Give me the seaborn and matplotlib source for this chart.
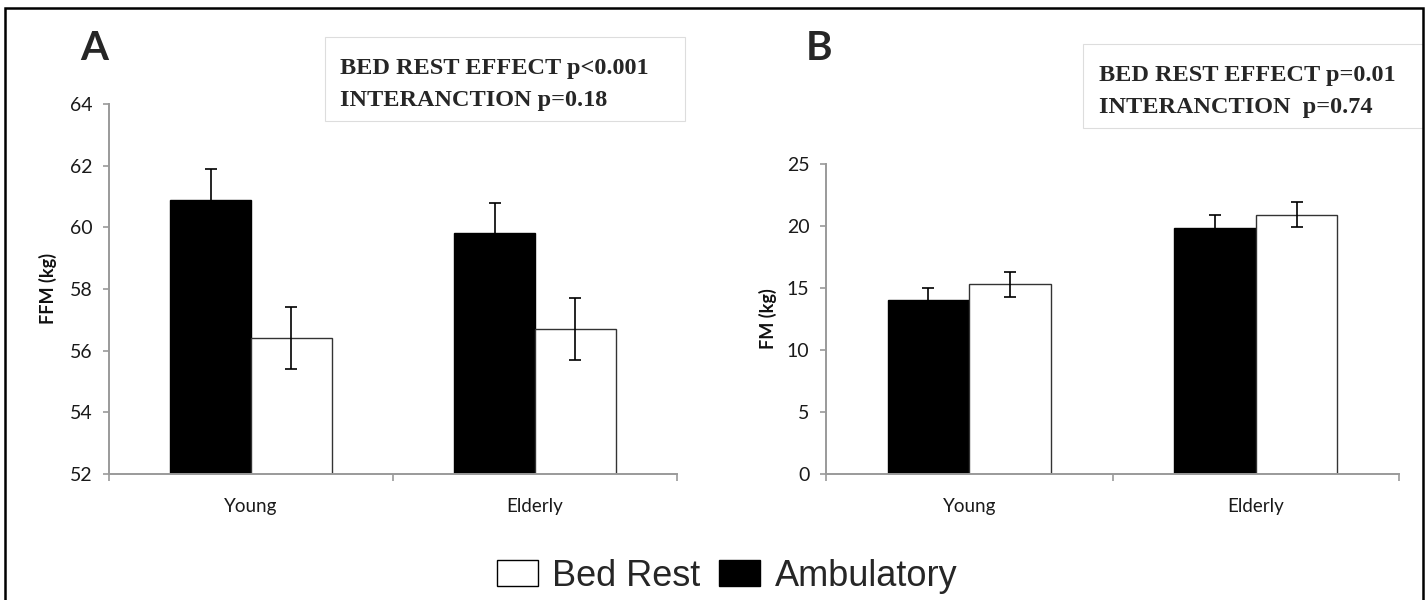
import numpy as np
import pandas as pd
import matplotlib
matplotlib.use("Agg")
import matplotlib.pyplot as plt
import seaborn as sns
from matplotlib.patches import Rectangle
from matplotlib.ticker import FixedLocator
from matplotlib.container import BarContainer

# ---------------- data ----------------
groups = ["Young", "Elderly"]
conditions = ["Ambulatory", "Bed Rest"]

ffm_ambulatory = [60.9, 59.8]
ffm_ambulatory_err = [1.0, 1.0]
ffm_bed_rest = [56.4, 56.7]
ffm_bed_rest_err = [1.0, 1.0]

fm_ambulatory = [14.0, 19.8]
fm_ambulatory_err = [1.0, 1.1]
fm_bed_rest = [15.3, 20.9]
fm_bed_rest_err = [1.0, 1.0]

ffm_ticks = [52, 54, 56, 58, 60, 62, 64]
fm_ticks = [0, 5, 10, 15, 20, 25]

panel_a_stats = ["BED REST EFFECT p<0.001", "INTERANCTION p=0.18"]
panel_b_stats = ["BED REST EFFECT p=0.01", "INTERANCTION  p=0.74"]
legend_labels = ["Bed Rest", "Ambulatory"]

# ---------------- style ----------------
sns.set_style("white")
plt.rcParams["font.family"] = ["Lato", "DejaVu Sans"]

W, H = 1428, 600
fig = plt.figure(figsize=(W / 100, H / 100), dpi=100)

def fx(px):
    return px / W

def fy(py):
    return 1 - py / H

palette = {"Ambulatory": "black", "Bed Rest": "white"}
spine_col = "#9a9a9a"


def make_df(amb, bed):
    rows = []
    for g, a, b in zip(groups, amb, bed):
        rows.append({"group": g, "condition": "Ambulatory", "value": a})
        rows.append({"group": g, "condition": "Bed Rest", "value": b})
    return pd.DataFrame(rows)


def draw_panel(rect, amb, amb_err, bed, bed_err, ticks, ylabel, ylab_x):
    ax = fig.add_axes(rect)
    df = make_df(amb, bed)
    sns.barplot(data=df, x="group", y="value", hue="condition",
                order=groups, hue_order=conditions, palette=palette,
                width=0.57, gap=0, errorbar=None, edgecolor="black",
                linewidth=1.0, ax=ax)
    bar_conts = [c for c in ax.containers if isinstance(c, BarContainer)]
    for cont in bar_conts:
        fc = cont.patches[0].get_facecolor()
        dark = sum(fc[:3]) < 1.5
        errs = amb_err if dark else bed_err
        if not dark:
            for b in cont.patches:
                b.set_edgecolor("#333333")
        xs = [b.get_x() + b.get_width() / 2 for b in cont.patches]
        ys = [b.get_y() + b.get_height() for b in cont.patches]
        ax.errorbar(xs, ys, yerr=errs, fmt="none", ecolor="black",
                    elinewidth=1.2, capsize=4, capthick=1.2, zorder=5)
    handles, labels = ax.get_legend_handles_labels()
    if ax.get_legend() is not None:
        ax.get_legend().remove()
    ax.set_xlim(-0.5, 1.5)
    ax.set_ylim(ticks[0], ticks[-1])
    ax.set_yticks(ticks)
    ax.set_xticks([0, 1])
    ax.set_xticklabels(groups)
    ax.xaxis.set_minor_locator(FixedLocator([-0.5, 0.5, 1.5]))
    ax.tick_params(axis="x", which="major", length=0, pad=17,
                   labelsize=13.5, labelcolor="#1a1a1a")
    ax.tick_params(axis="x", which="minor", length=5, width=1.2,
                   color=spine_col, direction="out", bottom=True)
    ax.tick_params(axis="y", which="major", length=4, width=1.2,
                   color=spine_col, pad=8, labelsize=14,
                   labelcolor="#1a1a1a", left=True)
    sns.despine(ax=ax)
    for s in ["left", "bottom"]:
        ax.spines[s].set_color(spine_col)
        ax.spines[s].set_linewidth(1.4)
    ax.set_xlabel("")
    ax.set_ylabel(ylabel, fontsize=13, fontweight="bold", color="#111111")
    ax.yaxis.set_label_coords(ylab_x, 0.5)
    ax.set_facecolor("none")
    return ax, dict(zip(labels, handles))


# Panel A
axA, hA = draw_panel([fx(109), fy(474), fx(677) - fx(109), fy(104) - fy(474)],
                     ffm_ambulatory, ffm_ambulatory_err,
                     ffm_bed_rest, ffm_bed_rest_err, ffm_ticks,
                     "FFM (kg)", -0.091)
# Panel B
axB, hB = draw_panel([fx(826), fy(474), fx(1399) - fx(826), fy(164) - fy(474)],
                     fm_ambulatory, fm_ambulatory_err,
                     fm_bed_rest, fm_bed_rest_err, fm_ticks,
                     "FM (kg)", -0.086)

# panel letters
fig.text(fx(80), fy(60), "A", fontsize=29, fontweight="bold",
         ha="left", va="baseline")
fig.text(fx(806), fy(60), "B", fontsize=29, fontweight="bold",
         ha="left", va="baseline")

# stats boxes
fig.patches.append(Rectangle((fx(325), fy(121)), fx(685) - fx(325), fy(37) - fy(121),
                             transform=fig.transFigure, facecolor="white",
                             edgecolor="#dddddd", linewidth=0.8, zorder=1))
fig.patches.append(Rectangle((fx(1083), fy(128)), fx(1423) - fx(1083), fy(44) - fy(128),
                             transform=fig.transFigure, facecolor="white",
                             edgecolor="#dddddd", linewidth=0.8, zorder=1))
serif = ["Liberation Serif", "DejaVu Serif"]
for i, line in enumerate(panel_a_stats):
    fig.text(fx(340), fy(74 + 32 * i), line, fontsize=17.5, fontweight="bold",
             family=serif, ha="left", va="baseline", zorder=3)
for i, line in enumerate(panel_b_stats):
    fig.text(fx(1099), fy(81 + 32 * i), line, fontsize=17.5, fontweight="bold",
             family=serif, ha="left", va="baseline", zorder=3)

# legend
handles = [hA["Bed Rest"], hA["Ambulatory"]]
leg = fig.legend(handles, legend_labels, loc="center", ncol=2,
                 bbox_to_anchor=(fx(727), fy(576)), frameon=False,
                 prop={"family": ["Liberation Sans", "DejaVu Sans"], "size": 26},
                 handlelength=1.15, handleheight=0.75, handletextpad=0.4,
                 columnspacing=0.5, borderpad=0)
for h in leg.legend_handles:
    h.set_edgecolor("black")
    h.set_linewidth(1.0)

# outer border
fig.patches.append(Rectangle((fx(5), -0.05), fx(1423) - fx(5), fy(8) + 0.05,
                             transform=fig.transFigure, fill=False,
                             edgecolor="black", linewidth=1.8, zorder=10))

fig.savefig("out.png", dpi=100, facecolor="white")
